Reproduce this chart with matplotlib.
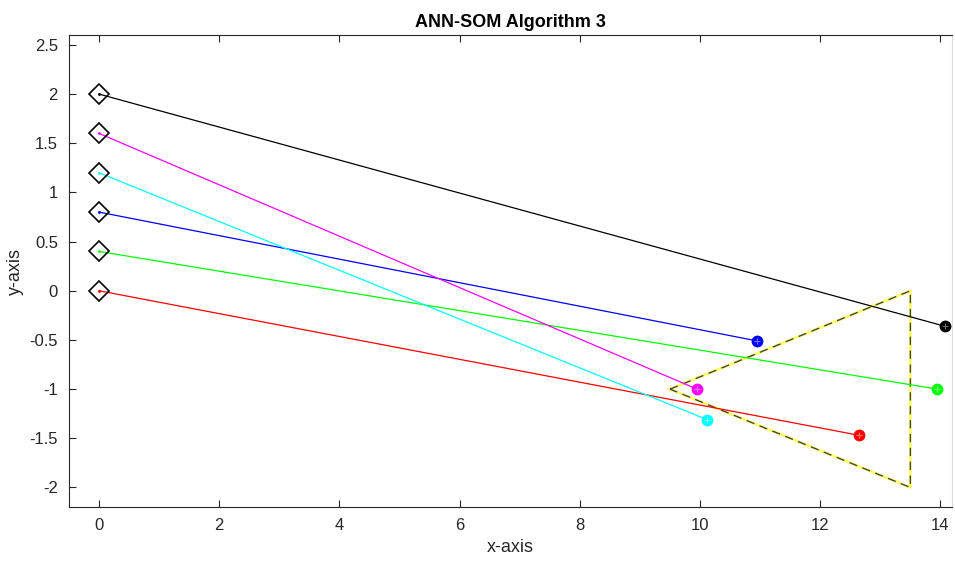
import matplotlib
matplotlib.use("Agg")
import matplotlib.pyplot as plt

plt.rcParams['font.family'] = ['Liberation Sans', 'DejaVu Sans']

# Start points (weights) and end points (trained positions) of each neuron
start_x = [0, 0, 0, 0, 0, 0]
start_y = [0.0, 0.4, 0.8, 1.2, 1.6, 2.0]
end_x = [12.65, 13.95, 10.95, 10.12, 9.95, 14.07]
end_y = [-1.47, -1.0, -0.51, -1.31, -1.0, -0.36]
colors = ['#ff0000', '#00ff00', '#0000ff', '#00ffff', '#ff00ff', '#000000']

# Triangle region
tri_x = [9.5, 13.5, 13.5, 9.5]
tri_y = [-1.0, 0.0, -2.0, -1.0]

x_ticks = [0, 2, 4, 6, 8, 10, 12, 14]
y_ticks = [-2, -1.5, -1, -0.5, 0, 0.5, 1, 1.5, 2, 2.5]
y_tick_labels = ['-2', '-1.5', '-1', '-0.5', '0', '0.5', '1', '1.5', '2', '2.5']

fig = plt.figure(figsize=(9.55, 5.66), dpi=100)
ax = fig.add_axes([0.0723, 0.104, 0.925, 0.834])

ax.plot(tri_x, tri_y, color='#ffff66', lw=2.0, zorder=2)
ax.plot(tri_x, tri_y, color='#444444', lw=1.0, ls=(0, (6, 4)), zorder=3)

for sx, sy, ex, ey, c in zip(start_x, start_y, end_x, end_y, colors):
    ax.plot([sx, ex], [sy, ey], color=c, lw=0.9, zorder=4)
    ax.plot(ex, ey, 'o', ms=7.5, mfc=c, mec=c, zorder=5)
    ax.plot(ex, ey, '+', ms=5, mew=0.8, color='white', alpha=0.45, zorder=6)
    ax.plot(sx, sy, 'D', ms=10, mfc='none', mec='black', mew=1.2, zorder=5)
    ax.plot(sx, sy, '.', ms=2, color=c, zorder=6)

ax.set_xlim(-0.5, 14.2)
ax.set_ylim(-2.2, 2.6)
ax.set_xticks(x_ticks)
ax.set_yticks(y_ticks)
ax.set_yticklabels(y_tick_labels)
ax.tick_params(direction='in', length=5, width=0.8, colors='#262626',
               labelsize=12, top=True, right=False, pad=8)
for sp in ax.spines.values():
    sp.set_color('#262626')
    sp.set_linewidth(0.8)
ax.spines['right'].set_color('#dddddd')

ax.set_xlabel('x-axis', fontsize=13, color='#262626')
ax.set_ylabel('y-axis', fontsize=13, color='#262626')
ax.set_title('ANN-SOM Algorithm 3', fontsize=13, fontweight='bold', pad=6)

fig.savefig('out.png', dpi=100)
